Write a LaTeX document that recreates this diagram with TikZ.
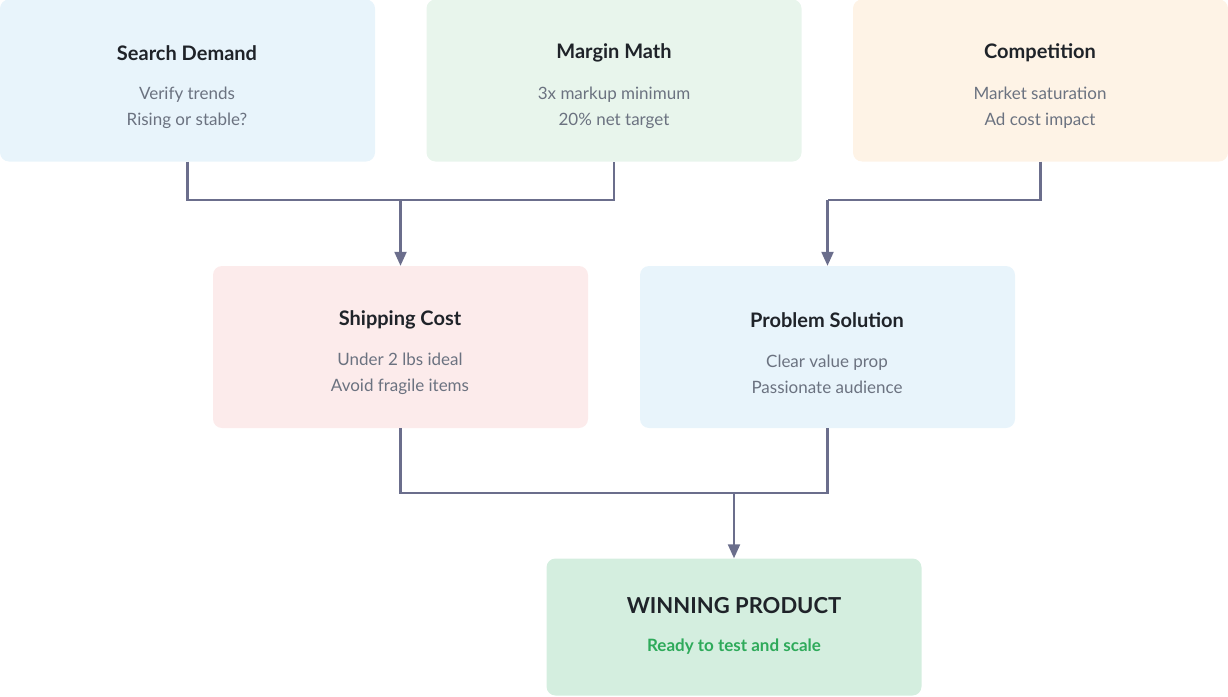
\documentclass[tikz,border=0pt]{standalone}
\usepackage{fontspec}
\setmainfont{Lato}
\usetikzlibrary{arrows.meta}
\definecolor{lblue}{HTML}{E8F4FB}
\definecolor{lgreen}{HTML}{E8F5EC}
\definecolor{lorange}{HTML}{FEF3E6}
\definecolor{lpink}{HTML}{FCEBEB}
\definecolor{wgreen}{HTML}{D4EEDF}
\definecolor{linec}{HTML}{6B6E8C}
\definecolor{ttl}{HTML}{1F2329}
\definecolor{sub}{HTML}{6B7280}
\definecolor{gtxt}{HTML}{2EAA5A}
\begin{document}
\begin{tikzpicture}[x=1pt,y=-1pt,
 box/.style={rounded corners=9pt,minimum width=375pt,minimum height=162pt,inner sep=0pt},
 tt/.style={font=\fontsize{20}{24}\selectfont\bfseries,text=ttl},
 st/.style={font=\fontsize{17}{26}\selectfont,text=sub,align=center},
 conn/.style={draw=linec,line width=2.2pt},
 arr/.style={conn,-{Triangle[length=14pt,width=12pt]}}]
\useasboundingbox (0,0) rectangle (1228,696);
\node[box,fill=lblue] (sd) at (187.5,80.5) {};
\node[box,fill=lgreen] (mm) at (614,80.5) {};
\node[box,fill=lorange] (co) at (1040.5,80.5) {};
\node[box,fill=lpink] (sc) at (400.5,347) {};
\node[box,fill=lblue] (ps) at (827.5,347) {};
\node[box,fill=wgreen,minimum height=137pt] (wp) at (734,627) {};
\node[tt] (t1) at (187,53) {Search Demand};
\node[st] (s1) at (187,108) {Verify trends\\Rising or stable?};
\node[tt] (t2) at (614,53) {Margin Math};
\node[st] (s2) at (614,108) {3x markup minimum\\20\% net target};
\node[tt] (t3) at (1040,53) {Competition};
\node[st] (s3) at (1040,108) {Market saturation\\Ad cost impact};
\node[tt] (t4) at (400,320) {Shipping Cost};
\node[st] (s4) at (400,374) {Under 2 lbs ideal\\Avoid fragile items};
\node[tt] (t5) at (827,320) {Problem Solution};
\node[st] (s5) at (827,374) {Clear value prop\\Passionate audience};
\node[tt,font=\fontsize{22}{26}\selectfont\bfseries] (t6) at (734,606) {WINNING PRODUCT};
\node[font=\fontsize{17}{20}\selectfont\bfseries,text=gtxt] (s6) at (734,647) {Ready to test and scale};
\coordinate (j1) at (400.5,200);
\coordinate (j2) at (827.5,200);
\coordinate (j3) at (734,493);
\draw[conn] (sd.south) -- (sd.south |- j1) -- (mm.south |- j1) -- (mm.south);
\draw[arr] (j1) -- (sc.north);
\draw[conn] (co.south) -- (co.south |- j2) -- (j2);
\draw[arr] (j2) -- (ps.north);
\draw[conn] (sc.south) -- (sc.south |- j3) -- (ps.south |- j3) -- (ps.south);
\draw[arr] (j3) -- (wp.north);
\end{tikzpicture}
\end{document}
